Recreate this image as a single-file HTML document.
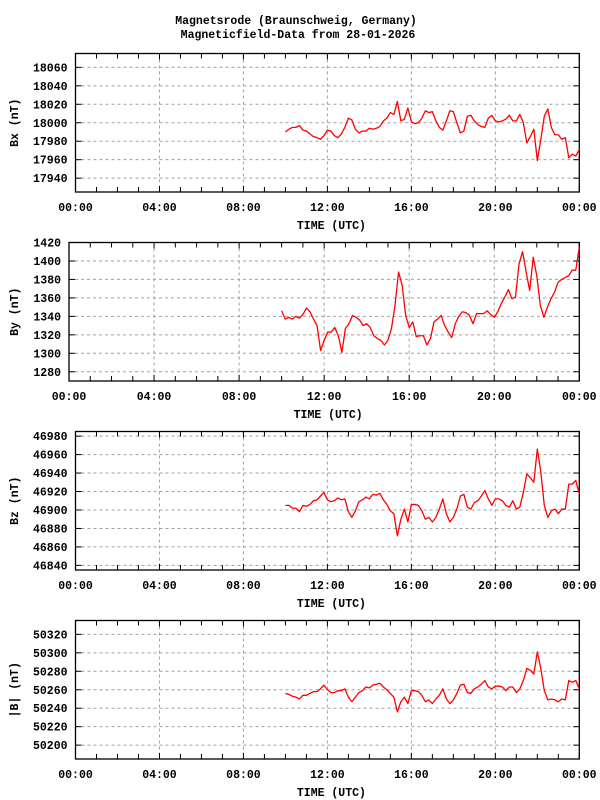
<!DOCTYPE html>
<html><head><meta charset="utf-8"><style>
html,body{margin:0;padding:0;background:#fff;}
svg{display:block;font-family:"Liberation Mono","DejaVu Sans Mono",monospace;font-weight:bold;}
</style></head><body>
<svg id="chart" width="600" height="800" viewBox="0 0 600 800" xmlns="http://www.w3.org/2000/svg">
<rect x="0" y="0" width="600" height="800" fill="#fff"/>
<text x="296" y="24" font-size="11.5" text-anchor="middle">Magnetsrode (Braunschweig, Germany)</text>
<text x="298" y="38" font-size="11.5" text-anchor="middle">Magneticfield-Data from 28-01-2026</text>
</svg>
<script>
// time axis: 10-minute samples starting at 10:00
const startHour = 10;
const stepMinutes = 10;
const xTickLabels = ["00:00","04:00","08:00","12:00","16:00","20:00","00:00"];

const bxValues = [17990,17993,17995,17995,17997,17992,17991,17988,17985,17984,17982,17986,17992,17991,17986,17984,17988,17995,18005,18003,17993,17989,17991,17991,17994,17993,17994,17996,18002,18005,18011,18009,18023,18002,18004,18016,18001,17999,18000,18005,18013,18011,18012,18002,17995,17992,18002,18013,18012,18000,17989,17991,18007,18008,18002,17998,17996,17995,18005,18008,18002,18001,18002,18004,18008,18002,18002,18009,18000,17978,17985,17993,17959,17982,18007,18015,17995,17987,17987,17982,17984,17962,17966,17964,17971];
const byValues = [1346,1337,1339,1337,1340,1338,1342,1349,1345,1337,1330,1303,1314,1323,1323,1328,1319,1301,1327,1332,1341,1339,1336,1330,1332,1328,1319,1316,1314,1309,1314,1327,1352,1388,1374,1341,1328,1334,1318,1319,1319,1309,1316,1334,1337,1341,1330,1323,1317,1332,1340,1345,1344,1341,1332,1343,1343,1343,1346,1342,1339,1345,1354,1361,1369,1359,1361,1397,1410,1388,1368,1404,1384,1352,1339,1350,1359,1366,1377,1380,1382,1384,1390,1390,1415];
const bzValues = [46905,46905,46902,46902,46898,46905,46904,46906,46910,46911,46915,46919,46911,46909,46910,46913,46911,46912,46898,46892,46899,46909,46911,46914,46912,46917,46916,46918,46911,46906,46899,46896,46872,46890,46901,46887,46906,46906,46905,46899,46890,46892,46887,46892,46901,46912,46896,46887,46892,46901,46915,46917,46903,46901,46908,46910,46915,46921,46912,46905,46912,46912,46910,46905,46903,46910,46901,46903,46919,46939,46935,46930,46966,46941,46905,46892,46899,46901,46896,46901,46901,46928,46928,46932,46917];
const btValues = [50256,50255,50253,50252,50250,50254,50254,50256,50258,50258,50261,50265,50260,50257,50257,50259,50259,50261,50252,50247,50252,50257,50259,50263,50262,50265,50266,50267,50263,50260,50256,50252,50236,50247,50252,50245,50259,50259,50258,50254,50247,50249,50245,50250,50254,50261,50250,50245,50249,50256,50265,50266,50257,50256,50261,50263,50266,50270,50263,50261,50264,50264,50263,50259,50263,50263,50257,50261,50270,50283,50281,50277,50301,50283,50259,50249,50250,50249,50247,50250,50249,50270,50268,50270,50261];

const bxTicks = [17940,17960,17980,18000,18020,18040,18060];
const byTicks = [1280,1300,1320,1340,1360,1380,1400,1420];
const bzTicks = [46840,46860,46880,46900,46920,46940,46960,46980];
const btTicks = [50200,50220,50240,50260,50280,50300,50320];

const panels = [
 {name:"bx", title:"Bx (nT)", vals:bxValues, ticks:bxTicks, ymin:17925, ymax:18075, left:75.5, top:53.5, bottom:192},
 {name:"by", title:"By (nT)", vals:byValues, ticks:byTicks, ymin:1270, ymax:1420, left:69, top:242.5, bottom:381},
 {name:"bz", title:"Bz (nT)", vals:bzValues, ticks:bzTicks, ymin:46835, ymax:46985, left:75.5, top:431.5, bottom:570},
 {name:"btotal", title:"|B| (nT)", vals:btValues, ticks:btTicks, ymin:50185, ymax:50335, left:75.5, top:620.5, bottom:759}
];
const svg = document.getElementById('chart');
const NS = "http://www.w3.org/2000/svg";
function mk(tag, attrs, parent){const e=document.createElementNS(NS,tag);for(const k in attrs)e.setAttribute(k,attrs[k]);(parent||svg).appendChild(e);return e;}
const right = 579.3;
panels.forEach(p=>{
  const g = mk('g',{});
  
  
  const xs = h => p.left + (right-p.left)*h/24;
  const ys = v => p.bottom - (p.bottom-p.top)*(v-p.ymin)/(p.ymax-p.ymin);
  // grid
  p.ticks.forEach(t=>{
    const y=ys(t);
    const gl=mk('line',{x1:p.left,x2:right,y1:y,y2:y,stroke:'#a0a0a0','stroke-width':1,'stroke-dasharray':'3,3'},g);
    
    
    mk('line',{x1:p.left,x2:p.left+6,y1:y,y2:y,stroke:'#000','stroke-width':1},g);
    mk('line',{x1:right-6,x2:right,y1:y,y2:y,stroke:'#000','stroke-width':1},g);
    const tl=mk('text',{x:p.left-8,y:y+4,'font-size':11.5,'text-anchor':'end'},g);
    tl.textContent=t;
    
    
  });
  for(let h=0;h<=24;h++){
    const x=xs(h);
    if(h%4===0 && h>0 && h<24){
      const gl=mk('line',{x1:x,x2:x,y1:p.top,y2:p.bottom,stroke:'#a0a0a0','stroke-width':1,'stroke-dasharray':'3,3'},g);
      
      
    }
    const len = (h%4===0)?6:5;
    mk('line',{x1:x,x2:x,y1:p.bottom,y2:p.bottom-len,stroke:'#000','stroke-width':1},g);
    mk('line',{x1:x,x2:x,y1:p.top,y2:p.top+len,stroke:'#000','stroke-width':1},g);
  }
  xTickLabels.forEach((lab,i)=>{
    const tl=mk('text',{x:xs(i*4),y:p.bottom+19,'font-size':11.5,'text-anchor':'middle'},g);
    tl.textContent=lab;
    
    
  });
  const xt=mk('text',{x:(p.left+right)/2+4,y:p.bottom+37,'font-size':11.5,'text-anchor':'middle'},g);
  xt.textContent='TIME (UTC)';
  
  
  const cy=(p.top+p.bottom)/2;
  const yt=mk('text',{x:18,y:cy,'font-size':11.5,'text-anchor':'middle',transform:'rotate(-90 18 '+cy+')'},g);
  yt.textContent=p.title;
  
  
  const fr=mk('rect',{x:p.left,y:p.top,width:right-p.left,height:p.bottom-p.top,fill:'none',stroke:'#000','stroke-width':1.3},g);
  
  
  const pts=p.vals.map((v,i)=>xs(startHour+i*stepMinutes/60).toFixed(2)+','+ys(v).toFixed(2)).join(' ');
  const ln=mk('polyline',{points:pts,fill:'none',stroke:'#ff0000','stroke-width':1.3,'stroke-linejoin':'round'},g);
  
  
});
</script>
</body></html>
